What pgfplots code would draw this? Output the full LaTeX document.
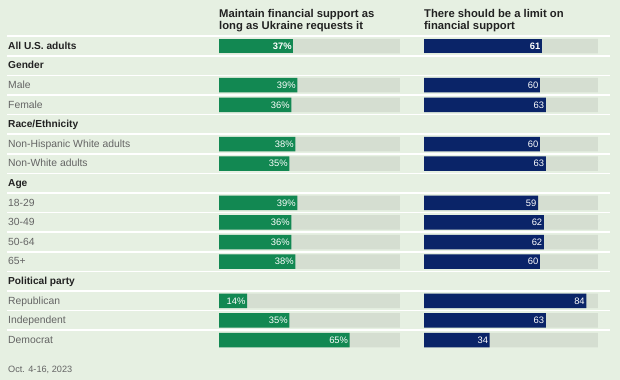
\documentclass[border=0pt]{standalone}
\usepackage{fontspec}
\setmainfont{Liberation Sans}
\usepackage{pgfplots}
\pgfplotsset{compat=1.18}
\definecolor{bg}{RGB}{230,240,226}
\definecolor{track}{RGB}{213,222,209}
\definecolor{gr}{RGB}{18,136,82}
\definecolor{nv}{RGB}{10,36,104}
\definecolor{hd}{RGB}{34,34,34}
\definecolor{lb}{RGB}{100,100,100}
\begin{document}
\begin{tikzpicture}
\fill[bg] (0bp,0bp) rectangle (620bp,380bp);
\useasboundingbox (0bp,0bp) rectangle (620bp,380bp);
\foreach \k in {0,...,15} \draw[white, line width=1.6bp] (7bp,{(343.8-19.6*\k)*1bp}) -- (610bp,{(343.8-19.6*\k)*1bp});
% column titles
\node[anchor=base west, inner sep=0, text=hd, font=\fontsize{11.3}{12}\selectfont\bfseries] at (219bp,362.2bp) {Maintain financial support as};
\node[anchor=base west, inner sep=0, text=hd, font=\fontsize{11.3}{12}\selectfont\bfseries] at (219bp,350.7bp) {long as Ukraine requests it};
\node[anchor=base west, inner sep=0, text=hd, font=\fontsize{11.3}{12}\selectfont\bfseries] at (424bp,362.2bp) {There should be a limit on};
\node[anchor=base west, inner sep=0, text=hd, font=\fontsize{11.3}{12}\selectfont\bfseries] at (424bp,350.7bp) {financial support};
% row labels
\foreach \i/\t in {0/All U.S. adults,1/Gender,4/Race\slash Ethnicity,7/Age,12/Political party}
  \node[anchor=base west, inner sep=0, text=hd, font=\fontsize{10.2}{12}\selectfont\bfseries] at (8bp,{(330.7-19.6*\i)*1bp}) {\t};
\foreach \i/\t in {2/Male,3/Female,5/Non-Hispanic White adults,6/Non-White adults,8/18-29,9/30-49,10/50-64,11/65+,13/Republican,14/Independent,15/Democrat}
  \node[anchor=base west, inner sep=0, text=lb, font=\fontsize{10.4}{12}\selectfont] at (8bp,{(330.7-19.6*\i)*1bp}) {\t};
\node[anchor=base west, inner sep=0, text=lb, font=\fontsize{9.2}{11}\selectfont] at (8bp,7.7bp) {Oct. 4-16, 2023};
\pgfplotsset{/pgf/number format/assume math mode=true}
% left axis
\begin{axis}[at={(219bp,30.2bp)}, anchor=south west, scale only axis,
  width=181bp, height=313.6bp, xmin=0, xmax=90, ymin=-0.5, ymax=15.5,
  y dir=reverse, hide axis, clip=false, xbar, bar shift=0pt, bar width=14.5bp, point meta=x]
\addplot[fill=track, draw=none] coordinates {(90,0) (90,2) (90,3) (90,5) (90,6) (90,8) (90,9) (90,10) (90,11) (90,13) (90,14) (90,15)};
\addplot[fill=gr, draw=none, nodes near coords={\pgfmathprintnumber{\pgfplotspointmeta}\%},
  every node near coord/.append style={anchor=east, text=white, inner sep=1.5bp, font=\fontsize{9.4}{10}\selectfont\bfseries}]
  coordinates {(37,0)};
\addplot[fill=gr, draw=none, nodes near coords={\pgfmathprintnumber{\pgfplotspointmeta}\%},
  every node near coord/.append style={anchor=east, text=white, inner sep=1.5bp, font=\fontsize{9.4}{10}\selectfont}]
  coordinates {(39,2) (36,3) (38,5) (35,6) (39,8) (36,9) (36,10) (38,11) (14,13) (35,14) (65,15)};
\end{axis}
% right axis
\begin{axis}[at={(424bp,30.2bp)}, anchor=south west, scale only axis,
  width=174bp, height=313.6bp, xmin=0, xmax=90, ymin=-0.5, ymax=15.5,
  y dir=reverse, hide axis, clip=false, xbar, bar shift=0pt, bar width=14.5bp, point meta=x]
\addplot[fill=track, draw=none] coordinates {(90,0) (90,2) (90,3) (90,5) (90,6) (90,8) (90,9) (90,10) (90,11) (90,13) (90,14) (90,15)};
\addplot[fill=nv, draw=none, nodes near coords={\pgfmathprintnumber{\pgfplotspointmeta}},
  every node near coord/.append style={anchor=east, text=white, inner sep=1.5bp, font=\fontsize{9.4}{10}\selectfont\bfseries}]
  coordinates {(61,0)};
\addplot[fill=nv, draw=none, nodes near coords={\pgfmathprintnumber{\pgfplotspointmeta}},
  every node near coord/.append style={anchor=east, text=white, inner sep=1.5bp, font=\fontsize{9.4}{10}\selectfont}]
  coordinates {(60,2) (63,3) (60,5) (63,6) (59,8) (62,9) (62,10) (60,11) (84,13) (63,14) (34,15)};
\end{axis}
\end{tikzpicture}
\end{document}
